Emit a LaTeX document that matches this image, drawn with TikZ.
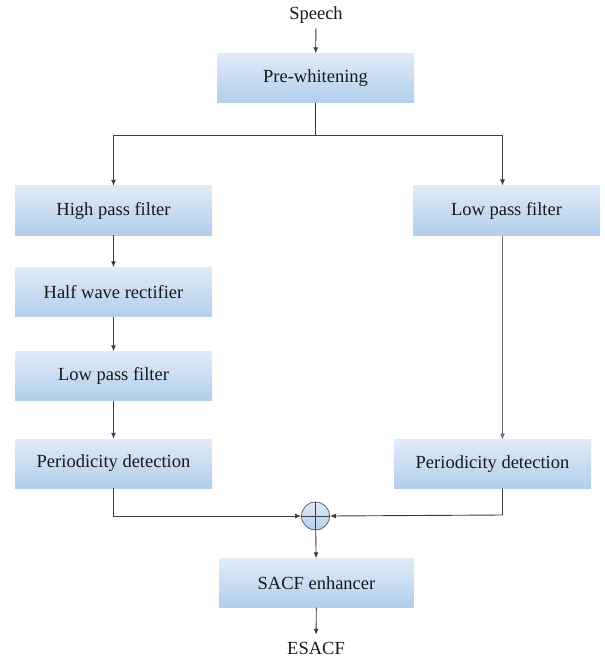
\documentclass[tikz,border=0pt]{standalone}
\usepackage{fontspec}
\setmainfont{Liberation Serif}
\newfontfamily\tnr{Liberation Serif}
\usetikzlibrary{arrows.meta}
\definecolor{boxtop}{RGB}{224,235,247}
\definecolor{boxbot}{RGB}{178,206,235}
\definecolor{linec}{RGB}{60,60,60}
\tikzset{
  blockbox/.style={shading=axis, top color=boxtop, bottom color=boxbot, shading angle=0,
    minimum width=197pt, minimum height=49pt, inner sep=0pt, font=\tnr\fontsize{18.5}{21}\selectfont, text=black!90},
  plaintext/.style={inner sep=0pt, outer sep=5pt, font=\tnr\fontsize{18.5}{21}\selectfont, text=black!90},
  conn/.style={draw=linec, line width=0.9pt, -{Latex[length=6pt,width=5pt]}},
  plainconn/.style={draw=linec, line width=0.9pt},
}
\begin{document}
\begin{tikzpicture}[x=1pt,y=-1pt]
\useasboundingbox (0,0) rectangle (604,660);
\node[plaintext] (speech) at (316,15) {Speech};
\node[blockbox] (pre) at (315.5,78) {Pre-whitening};
\node[blockbox] (hpf) at (113.5,210.5) {High pass filter};
\node[blockbox, minimum width=187pt] (lpfr) at (506.5,210.5) {Low pass filter};
\node[blockbox] (hwr) at (113.5,292) {Half wave rectifier};
\node[blockbox] (lpfl) at (113.5,376) {Low pass filter};
\node[blockbox] (pdl) at (113.5,463.5) {Periodicity detection};
\node[blockbox] (pdr) at (492.5,464) {Periodicity detection};
\node[circle, draw=linec!80, line width=0.8pt, shading=axis, top color=boxtop, bottom color=boxbot,
  minimum size=28pt, inner sep=0pt] (sum) at (315.5,516) {};
\node[blockbox, minimum width=194pt] (sacf) at (316.5,583) {SACF enhancer};
\node[plaintext, outer sep=7pt] (esacf) at (316,648) {ESACF};
\coordinate (split) at (315.5,135);
\coordinate (rtop) at (502.5,135);
\coordinate (rin) at (502.5,185.5);
\coordinate (rout) at (502.5,235.5);
\coordinate (rpdin) at (502.5,439.5);
\coordinate (rpdout) at (502.5,488.5);
\coordinate (rjoin) at (502.5,515);
\coordinate (ljoin) at (113.5,516);
% plus sign
\draw[linec, line width=0.8pt] (sum.north) -- (sum.south);
\draw[linec, line width=0.8pt] (sum.west) -- (sum.east);
% connectors
\draw[conn] (speech) -- (pre);
\draw[plainconn] (pre.south) -- (split);
\draw[conn] (split) -| (hpf.north);
\draw[conn] (split) -- (rtop) -- (rin);
\draw[conn] (hpf) -- (hwr);
\draw[conn] (hwr) -- (lpfl);
\draw[conn] (lpfl) -- (pdl);
\draw[conn, draw=linec!75] (rout) -- (rpdin);
\draw[conn] (pdl.south) -- (ljoin) -- (sum.west);
\draw[conn] (rpdout) -- (rjoin) -- (sum.east);
\draw[conn] (sum) -- (sacf);
\draw[conn] (sacf) -- (esacf);
\end{tikzpicture}
\end{document}
